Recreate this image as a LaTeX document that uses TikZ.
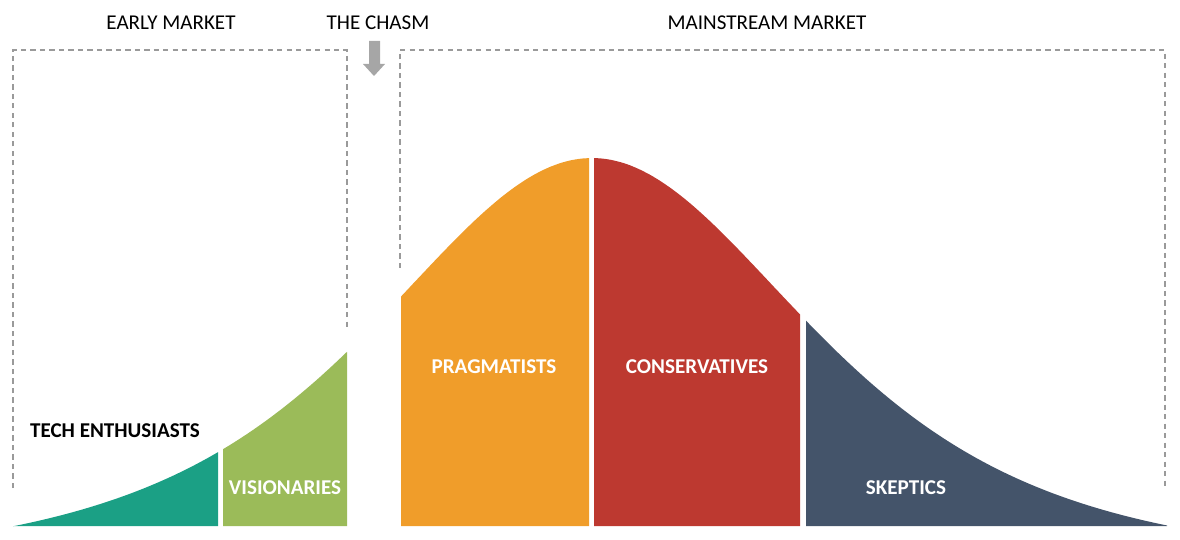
\documentclass[tikz,border=0pt]{standalone}
\usepackage{fontspec}
\setmainfont{Carlito}
\definecolor{techgreen}{HTML}{1BA085}
\definecolor{visiongreen}{HTML}{9BBB59}
\definecolor{pragorange}{HTML}{F09D2A}
\definecolor{consred}{HTML}{BD3930}
\definecolor{skepslate}{HTML}{44546A}
\definecolor{boxgray}{HTML}{9A9A9A}
\definecolor{arrowgray}{HTML}{A6A6A6}

\tikzset{
    headtxt/.style={font=\fontsize{12}{14}\selectfont, text=black, inner sep=0pt},
    grouptxt/.style={font=\fontsize{12}{14}\selectfont\bfseries, text=white, inner sep=0pt},
    marketbox/.style={draw=boxgray, line width=0.6pt, dash pattern=on 3pt off 2.4pt},
    declare function={bell(\t)=368*(1/(1+((\t-592)/400)^2)^2-0.1051)/0.8949;}
}

\begin{document}
\begin{tikzpicture}[x=0.02cm, y=-0.02cm]
    \useasboundingbox (0, 0) rectangle (1180, 540);

    % curve
    \foreach \a / \b / \c in {13/218/techgreen, 223/347/visiongreen, 401/589/pragorange, 594/800/consred, 806/1167/skepslate}
        \fill[\c] (\a, 526) -- plot[domain=\a:\b, samples=80] (\x, {526-bell(\x)}) -- (\b, 526) -- cycle;

    % market boxes
    \draw[marketbox] (13, 488) -- (13, 50) -- (347, 50) -- (347, 329);
    \draw[marketbox] (400, 268) -- (400, 50) -- (1165, 50) -- (1165, 490);

    % chasm arrow
    \fill[arrowgray] (369, 41) -- (380, 41) -- (380, 64) -- (385, 64) -- (374, 76) -- (363, 64) -- (369, 64) -- cycle;

    % top labels
    \node[headtxt] (early) at (171, 23) {EARLY MARKET};
    \node[headtxt] (chasm) at (378, 23) {THE CHASM};
    \node[headtxt] (mainstream) at (767, 23) {MAINSTREAM MARKET};

    % groups
    \node[grouptxt, text=black] (tech) at (115, 431) {TECH ENTHUSIASTS};
    \node[grouptxt] (visionaries) at (285, 488) {VISIONARIES};
    \node[grouptxt] (pragmatists) at (494, 367) {PRAGMATISTS};
    \node[grouptxt] (conservatives) at (697, 367) {CONSERVATIVES};
    \node[grouptxt] (skeptics) at (906, 488) {SKEPTICS};
\end{tikzpicture}
\end{document}
